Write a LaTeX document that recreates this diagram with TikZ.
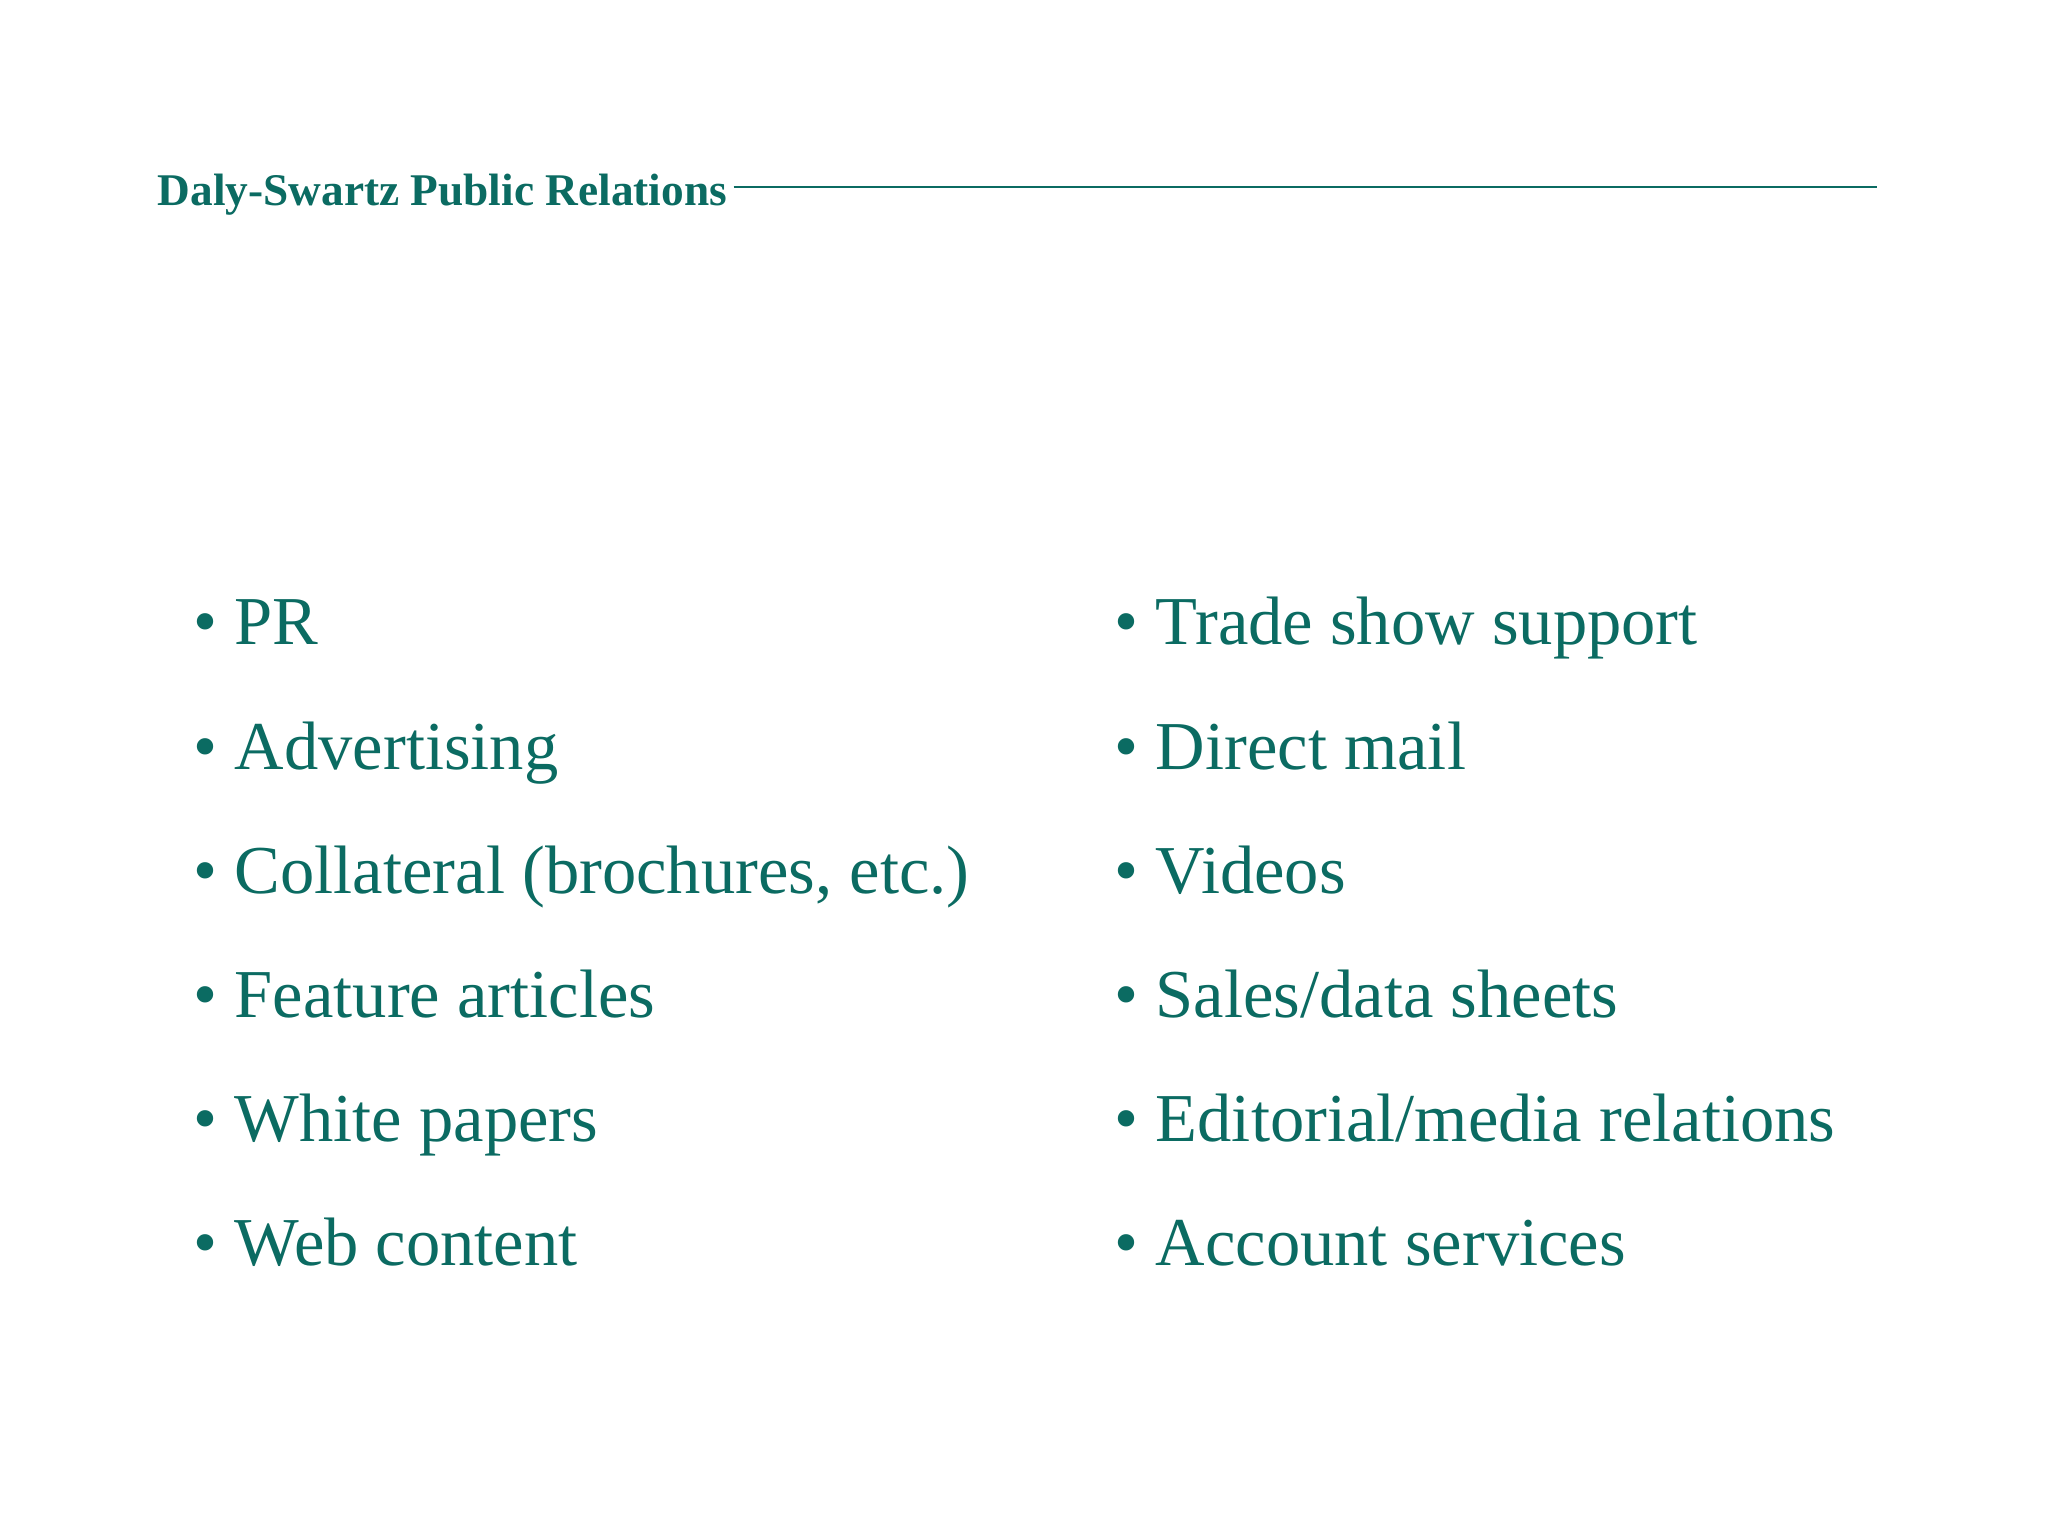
\documentclass[tikz,border=0pt]{standalone}
\usepackage{fontspec}
\setmainfont{Liberation Serif}
\definecolor{teal1}{HTML}{0B6B62}
\begin{document}
\begin{tikzpicture}[x=1cm,y=-1cm,
  item/.style={anchor=base west,inner sep=0pt,text=teal1,font=\fontsize{19.5}{23}\selectfont}]
\useasboundingbox[fill=white] (0,0) rectangle (20.48,15.36);
\node[anchor=base west,inner sep=0pt,text=teal1,font=\bfseries\fontsize{12.9}{15}\selectfont] (title) at (1.57,2.06) {Daly-Swartz Public Relations};
\coordinate (le) at (18.77,1.87);
\draw[teal1,line width=0.7pt] (title.east |- le) ++(0.06,0) -- (le);
\foreach \t [count=\i] in {PR,Advertising,{Collateral (brochures, etc.)},Feature articles,White papers,Web content}
  \node[item] (l\i) at (1.93,{6.45+1.24*(\i-1)}) {• \t};
\foreach \t [count=\i] in {Trade show support,Direct mail,Videos,Sales/data sheets,Editorial/media relations,Account services}
  \node[item] (r\i) at (11.14,{6.45+1.24*(\i-1)}) {• \t};
\end{tikzpicture}
\end{document}
